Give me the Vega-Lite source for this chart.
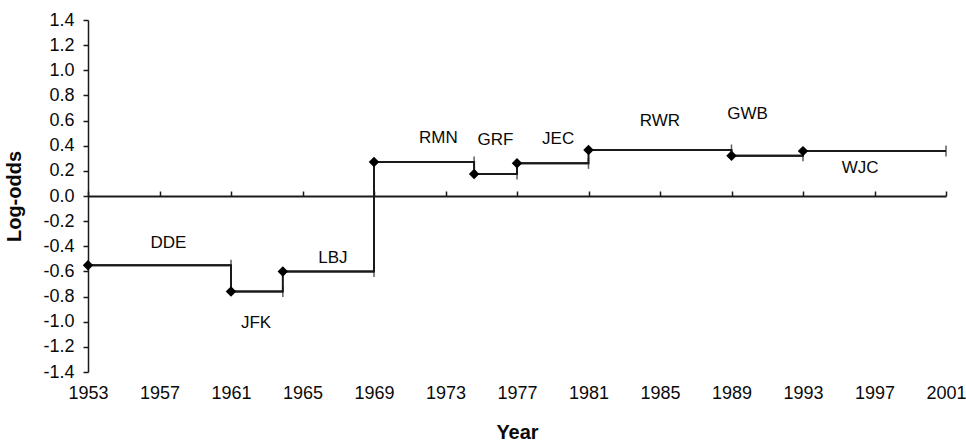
{
  "$schema": "https://vega.github.io/schema/vega-lite/v6.json",
  "autosize": "none",
  "width": 858,
  "height": 352,
  "padding": {"left": 88, "top": 20, "right": 20, "bottom": 71},
  "background": "white",
  "config": {
    "view": {"stroke": null},
    "font": "Liberation Sans",
    "axis": {"grid": false, "labelFont": "Liberation Sans", "titleFont": "Liberation Sans", "labelFontSize": 18, "labelOverlap": false, "labelColor": "#0a0a0a", "titleColor": "#0a0a0a", "domainColor": "#1a1a1a", "tickColor": "#1a1a1a", "titleFontSize": 20, "titleFontWeight": "bold"},
    "text": {"fontSize": 17}
  },
  "data": {
    "values": [
      {"name": "DDE", "start": 1953, "end": 1961, "value": -0.55, "labelYear": 1957.5, "labelValue": -0.37},
      {"name": "JFK", "start": 1961, "end": 1963.9, "value": -0.76, "labelYear": 1962.4, "labelValue": -1.01},
      {"name": "LBJ", "start": 1963.9, "end": 1969, "value": -0.6, "labelYear": 1966.7, "labelValue": -0.49},
      {"name": "RMN", "start": 1969, "end": 1974.6, "value": 0.27, "labelYear": 1972.6, "labelValue": 0.46},
      {"name": "GRF", "start": 1974.6, "end": 1977, "value": 0.175, "labelYear": 1975.8, "labelValue": 0.445},
      {"name": "JEC", "start": 1977, "end": 1981, "value": 0.26, "labelYear": 1979.3, "labelValue": 0.453},
      {"name": "RWR", "start": 1981, "end": 1989, "value": 0.366, "labelYear": 1985.0, "labelValue": 0.6},
      {"name": "GWB", "start": 1989, "end": 1993, "value": 0.32, "labelYear": 1989.9, "labelValue": 0.65},
      {"name": "WJC", "start": 1993, "end": 2001, "value": 0.357, "labelYear": 1996.2, "labelValue": 0.22}
    ]
  },
  "resolve": {"axis": {"x": "independent"}},
  "layer": [
    {
      "mark": {"type": "rule", "color": "#1a1a1a", "strokeWidth": 2},
      "encoding": {
        "x": {"field": "start", "type": "quantitative",
              "scale": {"domain": [1953, 2001], "nice": false, "zero": false},
              "axis": {"values": [1953, 1957, 1961, 1965, 1969, 1973, 1977, 1981, 1985, 1989, 1993, 1997, 2001], "tickCount": 13,
                       "format": "d", "domain": false, "ticks": false, "tickSize": 0, "labelPadding": 12, "labelOverlap": false,
                       "labelFontSize": 18, "labelFlush": false, "title": "Year", "titleFontSize": 20, "titleFontWeight": "bold", "titlePadding": 20}},
        "x2": {"field": "end"},
        "y": {"field": "value", "type": "quantitative",
              "scale": {"domain": [-1.4, 1.4], "nice": false, "zero": false},
              "axis": {"values": [-1.4, -1.2, -1.0, -0.8, -0.6, -0.4, -0.2, 0, 0.2, 0.4, 0.6, 0.8, 1.0, 1.2, 1.4], "tickCount": 15,
                       "labelExpr": "replace(format(datum.value, '.1f'), '\u2212', '-')", "labelOverlap": false,
                       "domainWidth": 1.5, "tickSize": 5, "tickWidth": 1.5, "labelPadding": 9, "labelFontSize": 18,
                       "title": "Log-odds", "titleFontSize": 20, "titleFontWeight": "bold", "titlePadding": 18}}
      }
    },
    {
      "mark": {"type": "line", "interpolate": "step-after", "color": "#1a1a1a", "strokeWidth": 2},
      "encoding": {
        "x": {"field": "start", "type": "quantitative",
              "axis": {"values": [1953, 1957, 1961, 1965, 1969, 1973, 1977, 1981, 1985, 1989, 1993, 1997, 2001], "tickCount": 13,
                       "offset": -176, "labels": false, "domain": true, "domainWidth": 2, "ticks": true, "tickSize": 5, "tickWidth": 1.5, "title": null}},
        "y": {"field": "value", "type": "quantitative"}
      }
    },
    {
      "mark": {"type": "tick", "orient": "vertical", "color": "#1a1a1a", "thickness": 1.5, "size": 11},
      "encoding": {
        "x": {"field": "end", "type": "quantitative", "axis": null},
        "y": {"field": "value", "type": "quantitative"}
      }
    },
    {
      "mark": {"type": "point", "shape": "diamond", "filled": true, "color": "#000000", "opacity": 1, "size": 110},
      "encoding": {
        "x": {"field": "start", "type": "quantitative", "axis": null},
        "y": {"field": "value", "type": "quantitative"}
      }
    },
    {
      "mark": {"type": "text", "font": "Liberation Sans", "fontSize": 17, "color": "#0a0a0a", "align": "center", "baseline": "middle"},
      "encoding": {
        "x": {"field": "labelYear", "type": "quantitative", "axis": null},
        "y": {"field": "labelValue", "type": "quantitative"},
        "text": {"field": "name"}
      }
    }
  ]
}
